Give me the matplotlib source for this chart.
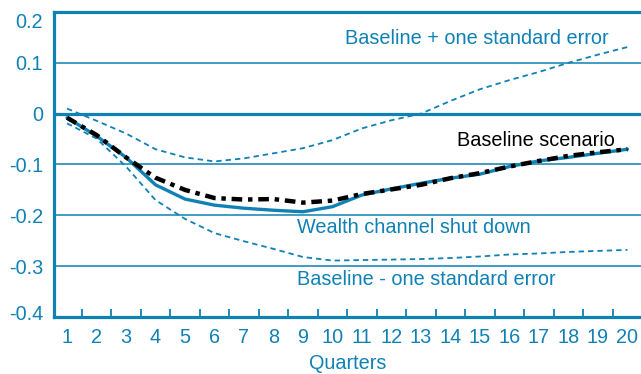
import matplotlib
matplotlib.use("Agg")
import matplotlib.pyplot as plt
from matplotlib.ticker import FixedLocator
from matplotlib.transforms import ScaledTranslation

plt.rcParams['font.family'] = ['Liberation Sans', 'DejaVu Sans']

BLUE = '#0f81b4'

quarters = list(range(1, 21))
baseline = [-0.008, -0.042, -0.086, -0.126, -0.150, -0.166, -0.169, -0.168, -0.175, -0.171,
            -0.158, -0.149, -0.140, -0.127, -0.117, -0.104, -0.093, -0.083, -0.076, -0.070]
wealth_off = [-0.008, -0.044, -0.086, -0.140, -0.168, -0.180, -0.186, -0.190, -0.193, -0.183,
              -0.160, -0.148, -0.137, -0.127, -0.119, -0.104, -0.093, -0.086, -0.078, -0.070]
upper_se = [0.010, -0.014, -0.039, -0.070, -0.086, -0.094, -0.088, -0.078, -0.068, -0.052,
            -0.029, -0.013, 0.000, 0.025, 0.048, 0.066, 0.082, 0.100, 0.116, 0.131]
lower_se = [-0.019, -0.049, -0.104, -0.170, -0.207, -0.235, -0.251, -0.266, -0.282, -0.289,
            -0.288, -0.287, -0.286, -0.284, -0.281, -0.277, -0.275, -0.272, -0.270, -0.268]

y_ticks = [0.2, 0.1, 0.0, -0.1, -0.2, -0.3, -0.4]
y_labels = ['0.2', '0.1', '0', '-0.1', '-0.2', '-0.3', '-0.4']

FS = 14.3

fig = plt.figure(figsize=(6.41, 3.74), dpi=100)
ax = fig.add_axes([0.0843, 0.1524, 0.9157, 0.8156])

ax.set_xlim(0.56, 20.46)
ax.set_ylim(-0.4, 0.2)

# horizontal rules
for v in y_ticks:
    if v in (0.2, -0.4):
        continue
    ax.axhline(v, color=BLUE, lw=2.3 if v == 0 else 1.1, zorder=1)

# confidence bands
ax.plot(quarters, upper_se, color=BLUE, lw=1.3, ls=(0, (3, 2.2)), zorder=2)
ax.plot(quarters, lower_se, color=BLUE, lw=1.3, ls=(0, (3, 2.2)), zorder=2)

# scenarios
ax.plot(quarters, wealth_off, color=BLUE, lw=2.4, solid_capstyle='round', zorder=3)
ax.plot(quarters, baseline, color='black', lw=3.2, ls=(0, (2.4, 1.3, 1.0, 1.3)), zorder=4)

# annotations
ax.text(10.42, 0.148, 'Baseline + one standard error', color=BLUE, fontsize=FS,
        ha='left', va='center')
ax.text(14.21, -0.053, 'Baseline scenario', color='black', fontsize=FS,
        ha='left', va='center')
ax.text(8.8, -0.2245, 'Wealth channel shut down', color=BLUE, fontsize=FS,
        ha='left', va='center')
ax.text(8.8, -0.326, 'Baseline - one standard error', color=BLUE, fontsize=FS,
        ha='left', va='center')

# axes frame
for side in ('top', 'left', 'bottom'):
    ax.spines[side].set_color(BLUE)
    ax.spines[side].set_linewidth(2.3)
ax.spines['right'].set_visible(False)

# x axis: labels at quarters, tick marks between them
ax.set_xticks(quarters)
ax.set_xticklabels([str(q) for q in quarters])
ax.xaxis.set_minor_locator(FixedLocator([q + 0.5 for q in quarters[:-1]]))
ax.tick_params(axis='x', which='major', length=0, pad=8, labelsize=FS, labelcolor=BLUE)
ax.tick_params(axis='x', which='minor', direction='in', length=5.5, width=1.3, color=BLUE)
ax.set_xlabel('Quarters', color=BLUE, fontsize=FS, labelpad=5)

# y axis
ax.set_yticks(y_ticks)
ax.set_yticklabels(y_labels)
ax.tick_params(axis='y', length=0, pad=8, labelsize=FS, labelcolor=BLUE)

# keep the end labels inside the frame
ylabs = ax.get_yticklabels()
ylabs[0].set_transform(ylabs[0].get_transform() + ScaledTranslation(0, -0.09, fig.dpi_scale_trans))
ylabs[-1].set_transform(ylabs[-1].get_transform() + ScaledTranslation(0, 0.05, fig.dpi_scale_trans))

fig.savefig('out.png', dpi=100)
